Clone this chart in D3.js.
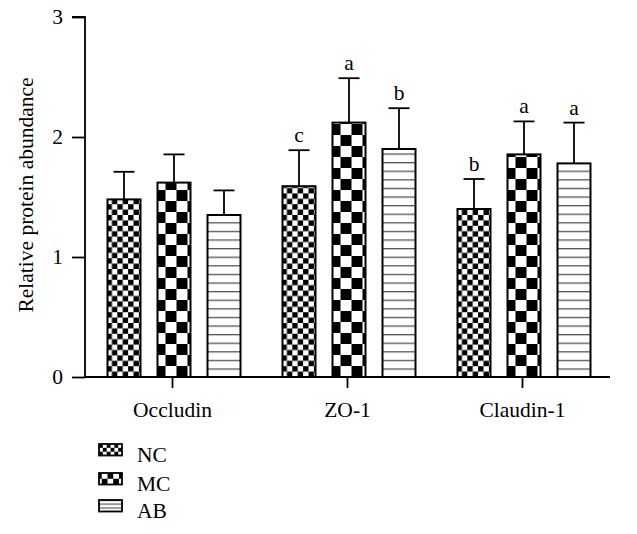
<!DOCTYPE html>
<html><head><meta charset="utf-8">
<script src="https://cdn.jsdelivr.net/npm/d3@7"></script>
<style>body{margin:0;background:#fff}svg{display:block}text{font-family:"Liberation Serif","DejaVu Serif",serif;fill:#000}</style>
</head><body><svg id="c" width="637" height="534"></svg>
<script>
const categories = ["Occludin", "ZO-1", "Claudin-1"];
const groups = ["NC", "MC", "AB"];
const meanNC = [1.48, 1.59, 1.40];
const meanMC = [1.62, 2.12, 1.855];
const meanAB = [1.35, 1.90, 1.78];
const errNC = [0.23, 0.30, 0.25];
const errMC = [0.235, 0.37, 0.275];
const errAB = [0.205, 0.34, 0.34];
const lettersNC = ["", "c", "b"];
const lettersMC = ["", "a", "a"];
const lettersAB = ["", "b", "a"];
const yTicks = [0, 1, 2, 3];

const means = {NC: meanNC, MC: meanMC, AB: meanAB};
const errs = {NC: errNC, MC: errMC, AB: errAB};
const letters = {NC: lettersNC, MC: lettersMC, AB: lettersAB};

const FS = 21.5;
const svg = d3.select("#c");
const x0 = 85, x1 = 610, yTop = 17, yBot = 377;
const x = d3.scaleBand().domain(categories).range([x0, x1]);
const xs = d3.scaleBand().domain(groups).range([-65, 68]).paddingInner(0.34);
const y = d3.scaleLinear().domain([0, 3]).range([yBot, yTop]);

const defs = svg.append("defs");
let pid = 0;
function checker(s, px, py) {
  const id = "pc" + (pid++);
  const p = defs.append("pattern").attr("id", id).attr("patternUnits","userSpaceOnUse")
    .attr("width",2*s).attr("height",2*s).attr("x",px).attr("y",py);
  p.append("rect").attr("width",2*s).attr("height",2*s).attr("fill","#fff");
  p.append("rect").attr("width",s).attr("height",s).attr("fill","#000");
  p.append("rect").attr("x",s).attr("y",s).attr("width",s).attr("height",s).attr("fill","#000");
  return "url(#" + id + ")";
}
function lines(step, lw, py, col) {
  const id = "pl" + (pid++);
  const p = defs.append("pattern").attr("id", id).attr("patternUnits","userSpaceOnUse")
    .attr("width",10).attr("height",step).attr("x",0).attr("y",py);
  p.append("rect").attr("width",10).attr("height",step).attr("fill","#fff");
  p.append("rect").attr("y",0).attr("width",10).attr("height",lw).attr("fill",col);
  return "url(#" + id + ")";
}
function barFill(g, bx) {
  if (g === "NC") return checker(5.4, bx - 1, yBot);
  if (g === "MC") return checker(11, bx - 3, yBot - 11);
  return lines(8.6, 1.3, yBot, "#555");
}
function legendFill(g, lx, ly) {
  if (g === "NC") return checker(3.85, lx, ly);
  if (g === "MC") return checker(5.75, lx - 3, ly);
  return lines(3.9, 1.2, ly + 3.5, "#555");
}

// bars
categories.forEach((c, i) => {
  groups.forEach(g => {
    const bx = x(c) + x.bandwidth()/2 + xs(g);
    const bw = xs.bandwidth();
    const m = means[g][i], e = errs[g][i];
    const cx = bx + bw/2;
    svg.append("line").attr("x1",cx).attr("x2",cx).attr("y1",y(m)).attr("y2",y(m+e)).attr("stroke","#000").attr("stroke-width",1.8);
    svg.append("line").attr("x1",cx-10.5).attr("x2",cx+10.5).attr("y1",y(m+e)).attr("y2",y(m+e)).attr("stroke","#000").attr("stroke-width",1.8);
    svg.append("rect").attr("x",bx).attr("y",y(m)).attr("width",bw).attr("height",y(0)-y(m))
      .attr("fill",barFill(g, bx)).attr("stroke","#000").attr("stroke-width",2);
    if (letters[g][i]) {
      svg.append("text").attr("x",cx).attr("y",y(m+e)-8).attr("text-anchor","middle").attr("font-size",FS).text(letters[g][i]);
    }
  });
});

// y axis
const yAxis = svg.append("g").attr("transform",`translate(${x0},0)`)
  .call(d3.axisLeft(y).tickValues(yTicks).tickFormat(d3.format("d")).tickSize(13).tickPadding(9));
yAxis.select(".domain").attr("stroke","#000").attr("stroke-width",1.8).attr("d",`M-13,${yTop}H0V${yBot}`);
yAxis.selectAll(".tick line").attr("stroke","#000").attr("stroke-width",1.8);
yAxis.selectAll(".tick text").attr("font-size",FS).attr("font-family","Liberation Serif");

// x axis
const xAxis = svg.append("g").attr("transform",`translate(0,${yBot})`)
  .call(d3.axisBottom(x).tickSize(11).tickPadding(14));
xAxis.select(".domain").attr("stroke","#000").attr("stroke-width",1.8).attr("d",`M${x0},0H${x1}`);
xAxis.selectAll(".tick line").attr("stroke","#000").attr("stroke-width",1.8);
xAxis.selectAll(".tick text").attr("font-size",FS).attr("font-family","Liberation Serif");

// y title
svg.append("text").attr("transform","translate(33,195) rotate(-90)").attr("text-anchor","middle")
  .attr("font-size",FS).text("Relative protein abundance");

// legend
const ly = {NC:444, MC:473, AB:500};
groups.forEach(g => {
  svg.append("rect").attr("x",99).attr("y",ly[g]).attr("width",23).attr("height",11.5)
    .attr("fill",legendFill(g, 99, ly[g])).attr("stroke","#000").attr("stroke-width",1.8);
  svg.append("text").attr("x",137).attr("y",ly[g]+18).attr("font-size",FS).text(g);
});
</script></body></html>
